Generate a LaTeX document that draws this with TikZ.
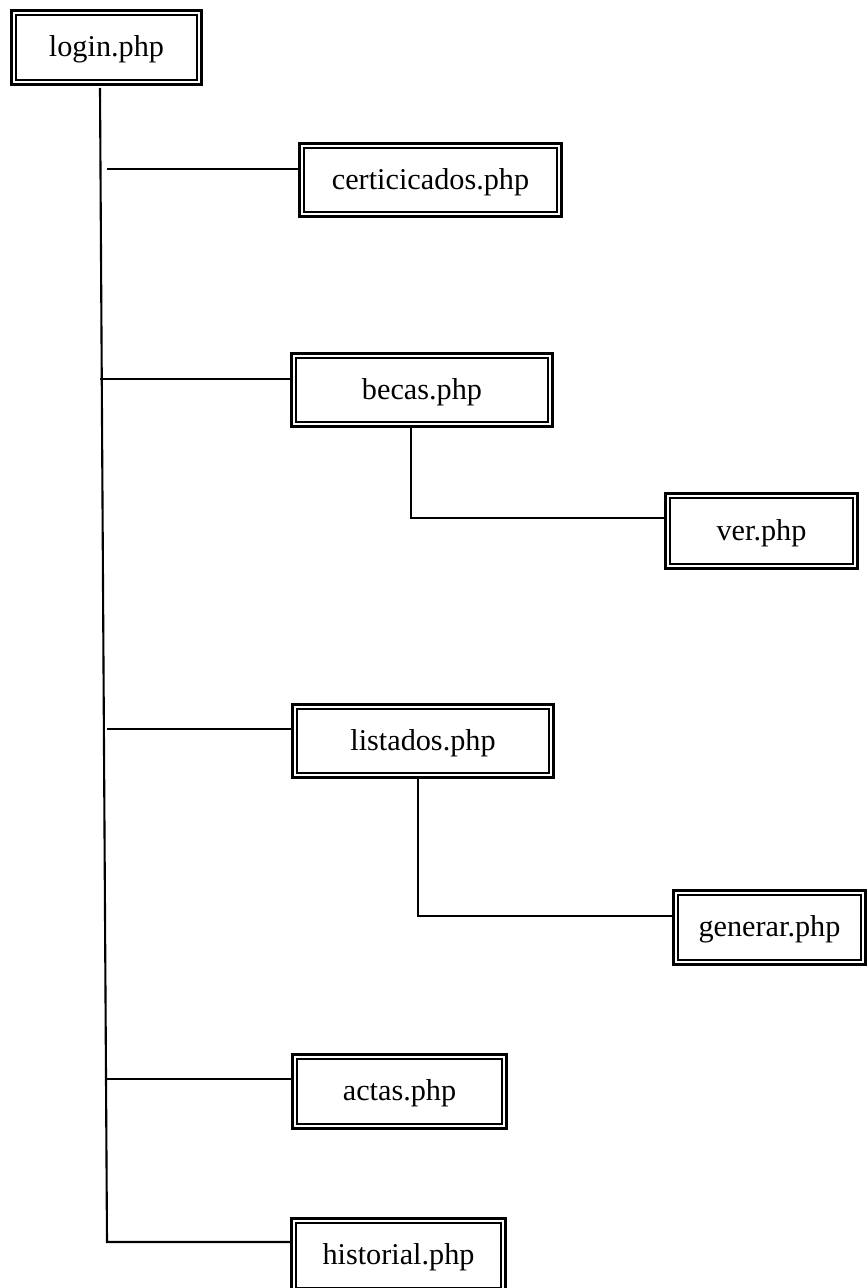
\documentclass[tikz,border=0pt]{standalone}
\usepackage{fontspec}
\setmainfont{Liberation Serif}
\usepackage{tikz}
\usetikzlibrary{positioning}

\begin{document}
\begin{tikzpicture}[x=0.025cm,y=-0.025cm,
    pagebox/.style={draw=black,line width=2.1pt,inner sep=1pt,minimum height=1.85cm,
      font=\fontsize{21.5}{24}\selectfont,text height=18pt,text depth=4.7pt,
      path picture={\draw[line width=1.4pt]
        ([shift={(0.118cm,0.118cm)}]path picture bounding box.south west) rectangle
        ([shift={(-0.118cm,-0.118cm)}]path picture bounding box.north east);}},
    link/.style={line width=1.5pt,black}]
      \useasboundingbox (0,0) rectangle (867,1288);
      % pages
      \node[pagebox,minimum width=4.75cm] (login) at (106.5,47.5) {login.php};
      \node[pagebox,minimum width=6.55cm,minimum height=1.825cm] (cert) at (430.5,180) {certicicados.php};
      \node[pagebox,minimum width=6.525cm,minimum height=1.825cm] (becas) at (422,390) {becas.php};
      \node[pagebox,minimum width=4.8cm,minimum height=1.875cm] (ver) at (761.5,531) {ver.php};
      \node[pagebox,minimum width=6.525cm,minimum height=1.825cm] (listados) at (423,741) {listados.php};
      \node[pagebox,minimum width=4.8cm] (generar) at (769.5,927.5) {generar.php};
      \node[pagebox,minimum width=5.35cm] (actas) at (399.5,1091.5) {actas.php};
      \node[pagebox,minimum width=5.35cm] (historial) at (398.5,1255.5) {historial.php};
      % trunk points
      \coordinate (t0) at (100,88);
      \coordinate (t1) at (107,169);
      \coordinate (t2) at (100,379);
      \coordinate (t3) at (107,729);
      \coordinate (t4) at (107,1079);
      \coordinate (t5) at (107,1242);
      \coordinate (v1) at (411,518);
      \coordinate (g1) at (418,916);
      % links
      \draw[link] (t0) -- (t5) -- (t5 -| historial.west);
      \draw[link] (t1) -- (t1 -| cert.west);
      \draw[link] (t2) -- (t2 -| becas.west);
      \draw[link] (t3) -- (t3 -| listados.west);
      \draw[link] (t4) -- (t4 -| actas.west);
      \draw[link] (v1 |- becas.south) -- (v1) -- (v1 -| ver.west);
      \draw[link] (g1 |- listados.south) -- (g1) -- (g1 -| generar.west);
    \end{tikzpicture}
\end{document}
